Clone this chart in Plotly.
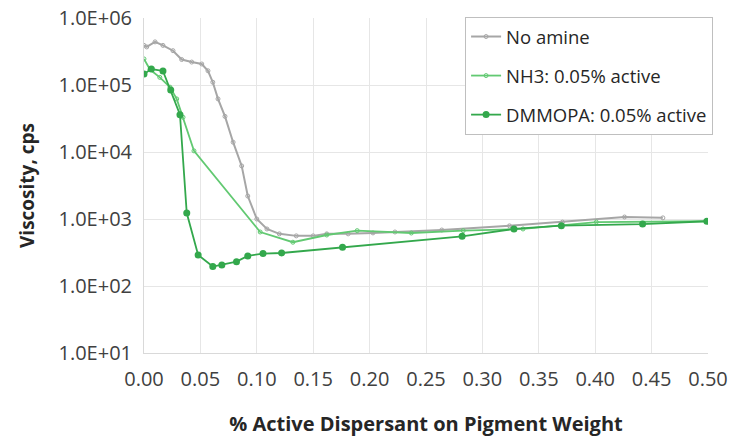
import plotly.graph_objects as go

# ---- data ----
no_amine_x = [0.0, 0.0024, 0.0098, 0.0168, 0.0257, 0.0334, 0.0423, 0.0512, 0.0567, 0.061,
              0.0656, 0.0718, 0.079, 0.0866, 0.092, 0.10, 0.109, 0.12, 0.135, 0.15,
              0.162, 0.181, 0.203, 0.2225, 0.264, 0.324, 0.371, 0.426, 0.46]
no_amine_y = [3.9e5, 3.7e5, 4.4e5, 3.9e5, 3.25e5, 2.4e5, 2.2e5, 2.06e5, 1.63e5, 1.1e5,
              6.2e4, 3.4e4, 1.4e4, 6.2e3, 2.2e3, 1.0e3, 710, 600, 560, 560,
              600, 600, 620, 640, 685, 790, 900, 1070, 1040]

nh3_x = [0.0, 0.0053, 0.014, 0.023, 0.029, 0.0346, 0.0443, 0.103, 0.132, 0.162,
         0.189, 0.237, 0.283, 0.336, 0.401, 0.499]
nh3_y = [2.45e5, 1.7e5, 1.3e5, 9.3e4, 6.2e4, 3.3e4, 1.04e4, 640, 450, 577,
         670, 618, 670, 710, 900, 925]

dmmopa_x = [0.0, 0.0065, 0.0168, 0.0237, 0.0319, 0.0379, 0.048, 0.061, 0.069, 0.082,
            0.092, 0.1055, 0.122, 0.176, 0.282, 0.328, 0.370, 0.442, 0.499]
dmmopa_y = [1.46e5, 1.73e5, 1.62e5, 8.4e4, 3.6e4, 1.23e3, 290, 195, 206, 231,
            281, 305, 311, 378, 552, 710, 795, 840, 925]

y_tick_vals = [10, 100, 1000, 10000, 100000, 1000000]
y_tick_text = ["1.0E+01", "1.0E+02", "1.0E+03", "1.0E+04", "1.0E+05", "1.0E+06"]
x_tick_vals = [0.0, 0.05, 0.10, 0.15, 0.20, 0.25, 0.30, 0.35, 0.40, 0.45, 0.50]
x_tick_text = ["0.00", "0.05", "0.10", "0.15", "0.20", "0.25", "0.30", "0.35", "0.40", "0.45", "0.50"]

FONT = "Open Sans, DejaVu Sans, sans-serif"

fig = go.Figure()
fig.add_trace(go.Scatter(
    x=no_amine_x, y=no_amine_y, name="No amine", mode="lines+markers",
    line=dict(color="#A6A6A6", width=2),
    marker=dict(symbol="circle-open", size=4, color="#A6A6A6", line=dict(width=1)),
    legendgroup="a"))
fig.add_trace(go.Scatter(
    x=nh3_x, y=nh3_y, name="NH3: 0.05% active", mode="lines+markers",
    line=dict(color="#62C972", width=1.8),
    marker=dict(symbol="circle-open", size=4, color="#62C972", line=dict(width=1)),
    legendgroup="b"))
fig.add_trace(go.Scatter(
    x=dmmopa_x, y=dmmopa_y, name="DMMOPA: 0.05% active", mode="lines+markers",
    line=dict(color="#33A84C", width=1.8),
    marker=dict(symbol="circle", size=7, color="#33A84C"),
    legendgroup="c"))

fig.update_layout(
    width=732, height=437,
    margin=dict(l=144, r=24, t=18, b=84, pad=0),
    paper_bgcolor="white", plot_bgcolor="white",
    font=dict(family=FONT, size=20, color="#404040"),
    showlegend=True,
    legend=dict(
        x=1.009, y=1.003, xanchor="right", yanchor="top",
        bgcolor="white", bordercolor="#BFBFBF", borderwidth=1,
        font=dict(family=FONT, size=18.5, color="#262626"),
        tracegroupgap=12, itemwidth=30,
    ),
    xaxis=dict(
        range=[0, 0.5], tickvals=x_tick_vals, ticktext=x_tick_text,
        automargin=False,
        showgrid=True, gridcolor="#E6E6E6", gridwidth=1,
        showline=True, linecolor="#D9D9D9", linewidth=1, mirror=False,
        zeroline=False,
        ticks="outside", ticklen=8, tickcolor="rgba(0,0,0,0)",
        tickfont=dict(size=20, color="#404040"),
        title=dict(text="<b>% Active Dispersant on Pigment Weight</b>",
                   font=dict(size=20, color="#262626"), standoff=30),
    ),
    yaxis=dict(
        type="log", range=[1, 6], tickvals=y_tick_vals, ticktext=y_tick_text,
        automargin=False,
        showgrid=True, gridcolor="#E6E6E6", gridwidth=1,
        showline=True, linecolor="#D9D9D9", linewidth=1,
        zeroline=False,
        ticks="outside", ticklen=7, tickcolor="rgba(0,0,0,0)",
        tickfont=dict(size=20, color="#404040"),
        title=dict(text="<b>Viscosity, cps</b>",
                   font=dict(size=19, color="#262626"), standoff=18),
    ),
)

fig.write_html("out.html", config={"displayModeBar": False},
               post_script="document.body.style.margin='0px';")
